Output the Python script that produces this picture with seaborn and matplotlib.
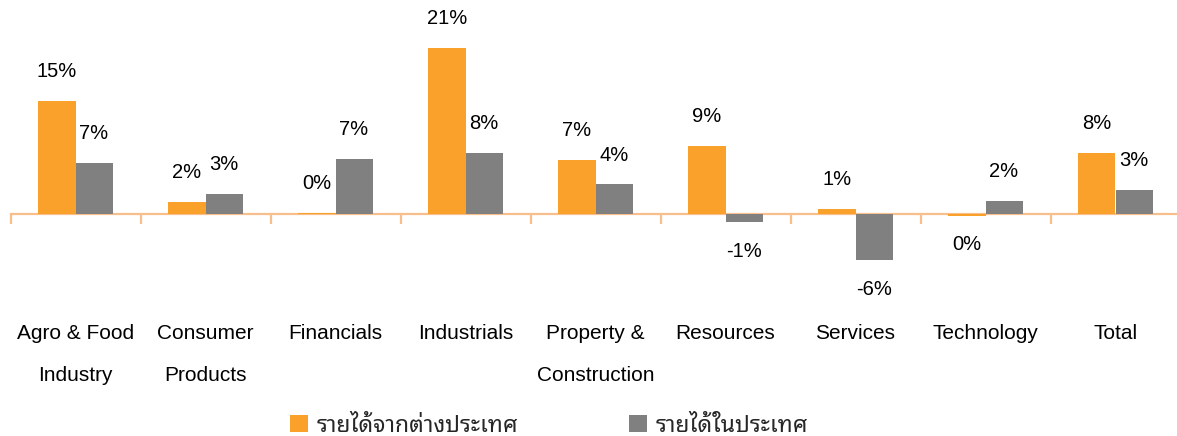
import matplotlib
matplotlib.use("Agg")
import numpy as np
import pandas as pd
import seaborn as sns
import matplotlib.pyplot as plt

categories = ["Agro & Food\nIndustry", "Consumer\nProducts", "Financials", "Industrials",
              "Property &\nConstruction", "Resources", "Services", "Technology", "Total"]
series = ["รายได้จากต่างประเทศ", "รายได้ในประเทศ"]
foreign = [14.6, 1.6, 0.1, 21.4, 6.9, 8.8, 0.6, -0.2, 7.9]
domestic = [6.6, 2.6, 7.1, 7.9, 3.8, -1.0, -5.9, 1.7, 3.1]

df = pd.DataFrame({
    "cat": categories * 2,
    "series": [series[0]] * len(categories) + [series[1]] * len(categories),
    "value": foreign + domestic,
})

sns.set_style("white")
plt.rcParams["font.family"] = ["Liberation Sans", "Noto Sans Thai Looped", "DejaVu Sans"]

orange = "#F9A12B"
grey = "#808080"
axis_col = "#F8BE8C"

fig = plt.figure(figsize=(11.77, 4.36), dpi=100)
ax = fig.add_axes([0, 0, 1, 1])

sns.barplot(data=df, x="cat", y="value", hue="series", hue_order=series,
            palette=[orange, grey], width=0.57, saturation=1, ax=ax,
            edgecolor="none", legend=True)

left = -0.5 - 10.5 / 130
ax.set_xlim(left, left + 1177 / 130)
ax.set_ylim(-(436 - 214) / 7.77, 214 / 7.77)

# axis line at zero with ticks between groups
for s in ["top", "right", "left"]:
    ax.spines[s].set_visible(False)
ax.spines["bottom"].set_position(("data", 0))
ax.spines["bottom"].set_color(axis_col)
ax.spines["bottom"].set_linewidth(1.6)
ax.spines["bottom"].set_bounds(-0.5, 9)
ax.spines["bottom"].set_zorder(0.5)
ax.set_xticks(np.arange(len(categories)))
ax.set_xticklabels([])
ax.set_xticks(np.arange(len(categories)) - 0.5, minor=True)
ax.tick_params(axis="x", which="major", length=0, bottom=False)
ax.tick_params(axis="x", which="minor", bottom=True, length=7, width=1.6,
               color=axis_col, direction="out")
ax.set_yticks([])
ax.set_xlabel("")
ax.set_ylabel("")

# value labels
for cont in ax.containers:
    for bar in cont:
        v = bar.get_height()
        x = bar.get_x() + bar.get_width() / 2
        lbl = "%d%%" % int(round(v))
        ax.annotate(lbl, (x, v), xytext=(0, 21.2 if v >= 0 else -21.2),
                    textcoords="offset points", ha="center", va="center",
                    fontsize=14.5, color="#000000")

# category labels at the bottom
trans = ax.get_xaxis_transform()
for i, c in enumerate(categories):
    for j, line in enumerate(c.split("\n")):
        ax.text(i, 1 - (333 + 42 * j) / 436, line, transform=trans,
                ha="center", va="center", fontsize=15, color="#000000")

handles, labels = ax.get_legend_handles_labels()
ax.legend(handles, labels, ncol=2, loc="center left",
          bbox_to_anchor=(290 / 1177, 1 - 425 / 436), frameon=False,
          borderpad=0, borderaxespad=0, fontsize=16.5,
          handlelength=0.8, handleheight=0.8, handletextpad=0.35,
          columnspacing=4.85)

fig.savefig("out.png", dpi=100)
